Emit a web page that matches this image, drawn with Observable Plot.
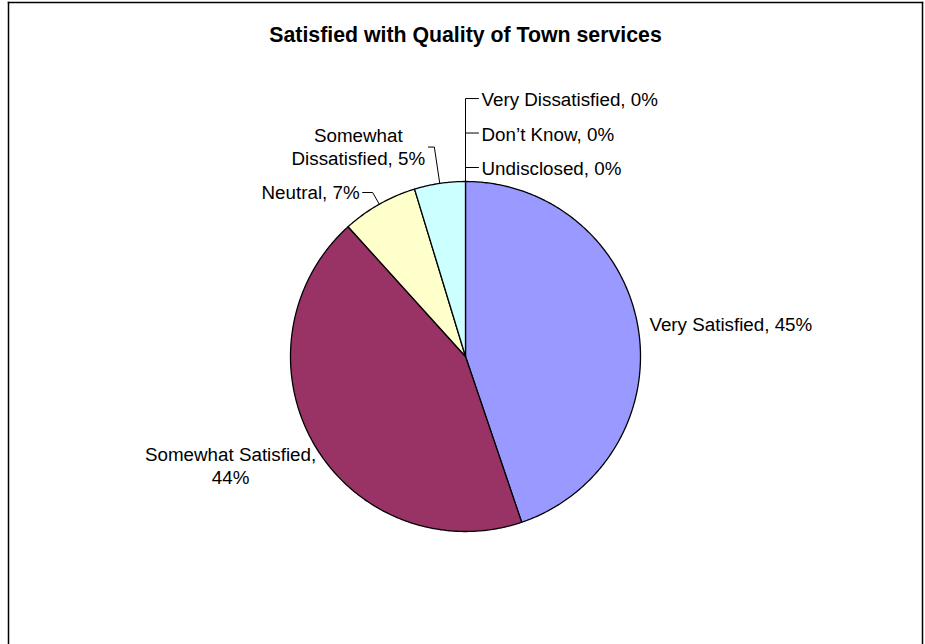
<!DOCTYPE html>
<html>
<head>
<meta charset="utf-8">
<script src="https://cdn.jsdelivr.net/npm/d3@7"></script>
<script src="https://cdn.jsdelivr.net/npm/@observablehq/plot@0.6"></script>
<style>
  html, body { margin: 0; padding: 0; background: #fff; overflow: hidden; }
  #chart svg { display: block; }
</style>
</head>
<body>
<div id="chart"></div>
<script>
// ---- data ----
const chartTitle = "Satisfied with Quality of Town services";
const categories = ["Very Satisfied", "Somewhat Satisfied", "Neutral", "Somewhat Dissatisfied",
                    "Very Dissatisfied", "Don\u2019t Know", "Undisclosed"];
const percents = [44.8, 43.5, 7.0, 4.7, 0, 0, 0];
const sliceColors = ["#9999FF", "#993366", "#FFFFCC", "#CCFFFF", "#FF8080", "#0066CC", "#CCCCFF"];

// ---- layout helpers (not data) ----
const FONT = "'Liberation Sans', Arial, Helvetica, sans-serif";
const PX = 175; // pixels per unit radius (matches scale ranges below)
const wrapPrefix = { "Somewhat Satisfied": "Somewhat Satisfied,\n", "Somewhat Dissatisfied": "Somewhat\nDissatisfied, " };

const rows = categories.map((name, i) => ({ name, value: percents[i] }));
const arcs = d3.pie().sort(null).value(d => d.value)(rows);
const polar = (a, r) => [r * Math.sin(a), r * Math.cos(a)];

// slice polygons
const slicePts = [];
arcs.forEach(a => {
  if (a.endAngle - a.startAngle <= 0) return;
  slicePts.push({ name: a.data.name, x: 0, y: 0 });
  const n = Math.max(2, Math.ceil((a.endAngle - a.startAngle) / 0.01));
  for (let k = 0; k <= n; k++) {
    const t = a.startAngle + (a.endAngle - a.startAngle) * k / n;
    const [x, y] = polar(t, 1);
    slicePts.push({ name: a.data.name, x, y });
  }
});

const labelText = d => {
  const pct = Math.round(d.data.value) + "%";
  return wrapPrefix[d.data.name] ? wrapPrefix[d.data.name] + pct : d.data.name + ", " + pct;
};

// label placement rules
const layout = {
  "Very Satisfied":        { r: 1.065, anchor: "start",  dx: 0,   dy: -3 },
  "Somewhat Satisfied":    { r: 1.0,   anchor: "middle", dx: -84, dy: 20 },
  "Neutral":               { leader: [1.077, -10], anchor: "end",    dx: -3,  dy: -1 },
  "Somewhat Dissatisfied": { leader: [1.21, -6],   anchor: "middle", dx: -70, dy: -1 }
};

const labels = [];
const leaders = [];
const zeroArcs = arcs.filter(a => a.data.value === 0);
arcs.forEach(a => {
  const mid = (a.startAngle + a.endAngle) / 2;
  const name = a.data.name;
  const text = labelText(a);
  if (a.data.value === 0) {
    const k = zeroArcs.length - 1 - zeroArcs.indexOf(a);
    const yk = 1.08 + k * 0.197;
    const [ex, ey] = polar(mid, 1);
    leaders.push({ name, x: ex, y: ey }, { name, x: ex, y: yk }, { name, x: ex + 13 / PX, y: yk });
    labels.push({ name, text, x: ex + 16 / PX, y: yk, anchor: "start", dx: 0, dy: 0 });
    return;
  }
  const L = layout[name];
  if (L.leader) {
    const [ex, ey] = polar(mid, 1);
    const [bx, by] = polar(mid, L.leader[0]);
    const endX = bx + L.leader[1] / PX;
    leaders.push({ name, x: ex, y: ey }, { name, x: bx, y: by }, { name, x: endX, y: by });
    labels.push({ name, text, x: endX, y: by, anchor: L.anchor, dx: L.dx, dy: L.dy });
  } else {
    const [x, y] = polar(mid, L.r);
    labels.push({ name, text, x, y, anchor: L.anchor, dx: L.dx, dy: L.dy });
  }
});

const textMarks = ["start", "middle", "end"].map(anchor =>
  Plot.text(labels.filter(d => d.anchor === anchor), {
    x: "x", y: "y", text: "text", textAnchor: anchor, lineAnchor: "middle",
    dx: d => d.dx, // placeholder, overridden below
    fontSize: 18.8, lineHeight: 1.25, fill: "#000"
  })
);
// apply per-label pixel offsets via transform on positions
const textMarksOffset = ["start", "middle", "end"].map(anchor =>
  Plot.text(labels.filter(d => d.anchor === anchor).map(d => ({ ...d, x: d.x + d.dx / PX, y: d.y - d.dy / PX })), {
    x: "x", y: "y", text: "text", textAnchor: anchor, lineAnchor: "middle",
    fontSize: 18.8, lineHeight: 1.25, fill: "#000"
  })
);

const chart = Plot.plot({
  width: 925,
  height: 644,
  marginLeft: 8,
  marginRight: 3,
  marginTop: 2,
  marginBottom: 0,
  style: { fontFamily: FONT, background: "#fff", color: "#000" },
  x: { domain: [-1, 1], range: [290, 640], axis: null },
  y: { domain: [-1, 1], range: [531, 181], axis: null },
  color: { domain: categories, range: sliceColors },
  marks: [
    Plot.frame({ anchor: "left", stroke: "#000", strokeWidth: 1.5 }),
    Plot.frame({ anchor: "top", stroke: "#000", strokeWidth: 1.5 }),
    Plot.frame({ anchor: "right", stroke: "#000", strokeWidth: 1.5 }),
    Plot.text([chartTitle], { frameAnchor: "top", dy: 33, lineAnchor: "middle", fontSize: 21.3, fontWeight: "bold", fill: "#000" }),
    Plot.line(slicePts, { x: "x", y: "y", z: "name", fill: "name", stroke: "#000", strokeWidth: 1.3, curve: "linear-closed", strokeLinejoin: "round" }),
    Plot.line(leaders, { x: "x", y: "y", z: "name", stroke: "#000", strokeWidth: 1 }),
    ...textMarksOffset
  ]
});
document.getElementById("chart").append(chart);
</script>
</body>
</html>
